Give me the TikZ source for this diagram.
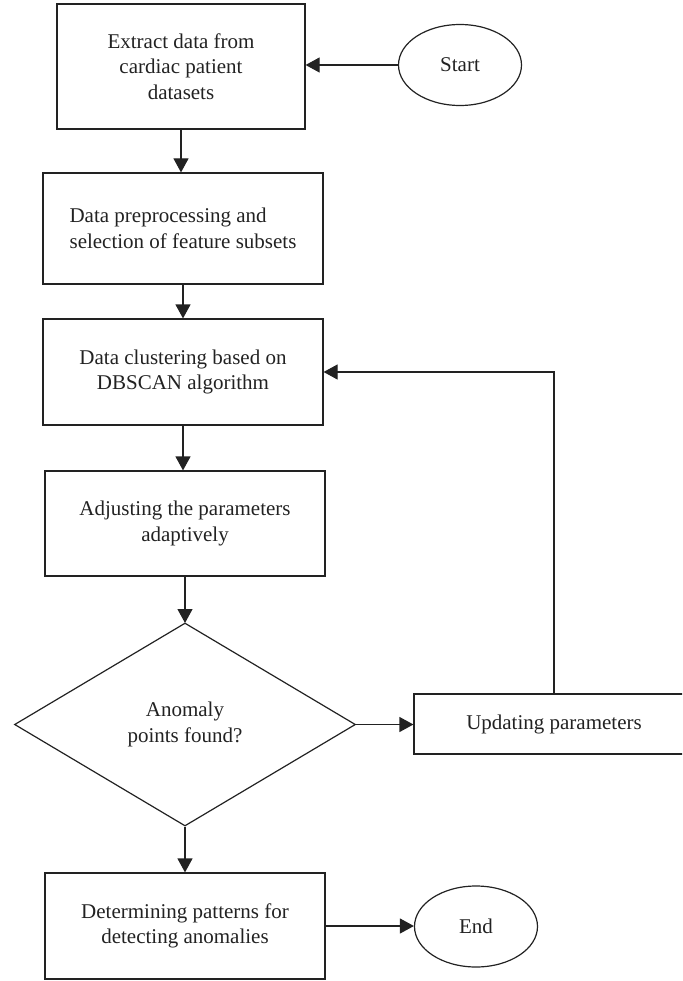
\documentclass[tikz,border=0pt]{standalone}
\usepackage{fontspec}
\setmainfont{Liberation Serif}
\usetikzlibrary{shapes.geometric,arrows.meta}
\definecolor{ink}{HTML}{222222}
\begin{document}
\begin{tikzpicture}[x=1pt,y=1pt,
  every node/.style={font=\fontsize{21}{25.5}\selectfont, text=ink},
  procbox/.style={draw=ink, line width=1.2pt, rectangle, inner sep=0pt, align=center},
  termbox/.style={draw=ink, line width=1.2pt, ellipse, inner sep=0pt, minimum width=123pt, minimum height=81pt},
  decbox/.style={draw=ink, line width=1.2pt, diamond, inner sep=0pt, align=center, minimum width=341pt, minimum height=203pt},
  flow/.style={draw=ink, line width=1.2pt, -{Triangle[width=15pt,length=14pt]}}
]
\useasboundingbox (0,0) rectangle (682,-981);
\clip (0,0) rectangle (682,-981);

\node[procbox, minimum width=248pt, minimum height=125pt] (box1) at (181,-66.5) {Extract data from\\cardiac patient\\datasets};
\node[termbox] (start) at (460,-65) {Start};
\node[procbox, minimum width=280pt, minimum height=111pt, align=left] (box2) at (183,-228.5) {Data preprocessing and\\selection of feature subsets};
\node[procbox, minimum width=280pt, minimum height=106pt] (box3) at (183,-372) {Data clustering based on\\DBSCAN algorithm};
\node[procbox, minimum width=280pt, minimum height=105pt] (box4) at (185,-523.5) {Adjusting the parameters\\adaptively};
\node[decbox] (dia) at (185,-724.5) {Anomaly\\points found?};
\coordinate (diatop) at (185,-623);
\node[procbox, minimum width=280pt, minimum height=60pt] (upd) at (554,-724) {Updating parameters};
\node[procbox, minimum width=280pt, minimum height=106pt] (box5) at (185,-926) {Determining patterns for\\detecting anomalies};
\node[termbox] (end) at (476,-926.5) {End};

\draw[flow] (start.west) -- (start.west -| box1.east);
\draw[flow] (box1.south) -- (box1.south |- box2.north);
\draw[flow] (box2.south) -- (box2.south |- box3.north);
\draw[flow] (box3.south) -- (box3.south |- box4.north);
\draw[flow] (box4.south) -- (diatop);
\draw[flow] (dia.south) -- (dia.south |- box5.north);
\draw[flow] (dia.east) -- (dia.east -| upd.west);
\draw[flow] (upd.north) |- (box3.east);
\draw[flow] (box5.east) -- (box5.east -| end.west);
\end{tikzpicture}
\end{document}
